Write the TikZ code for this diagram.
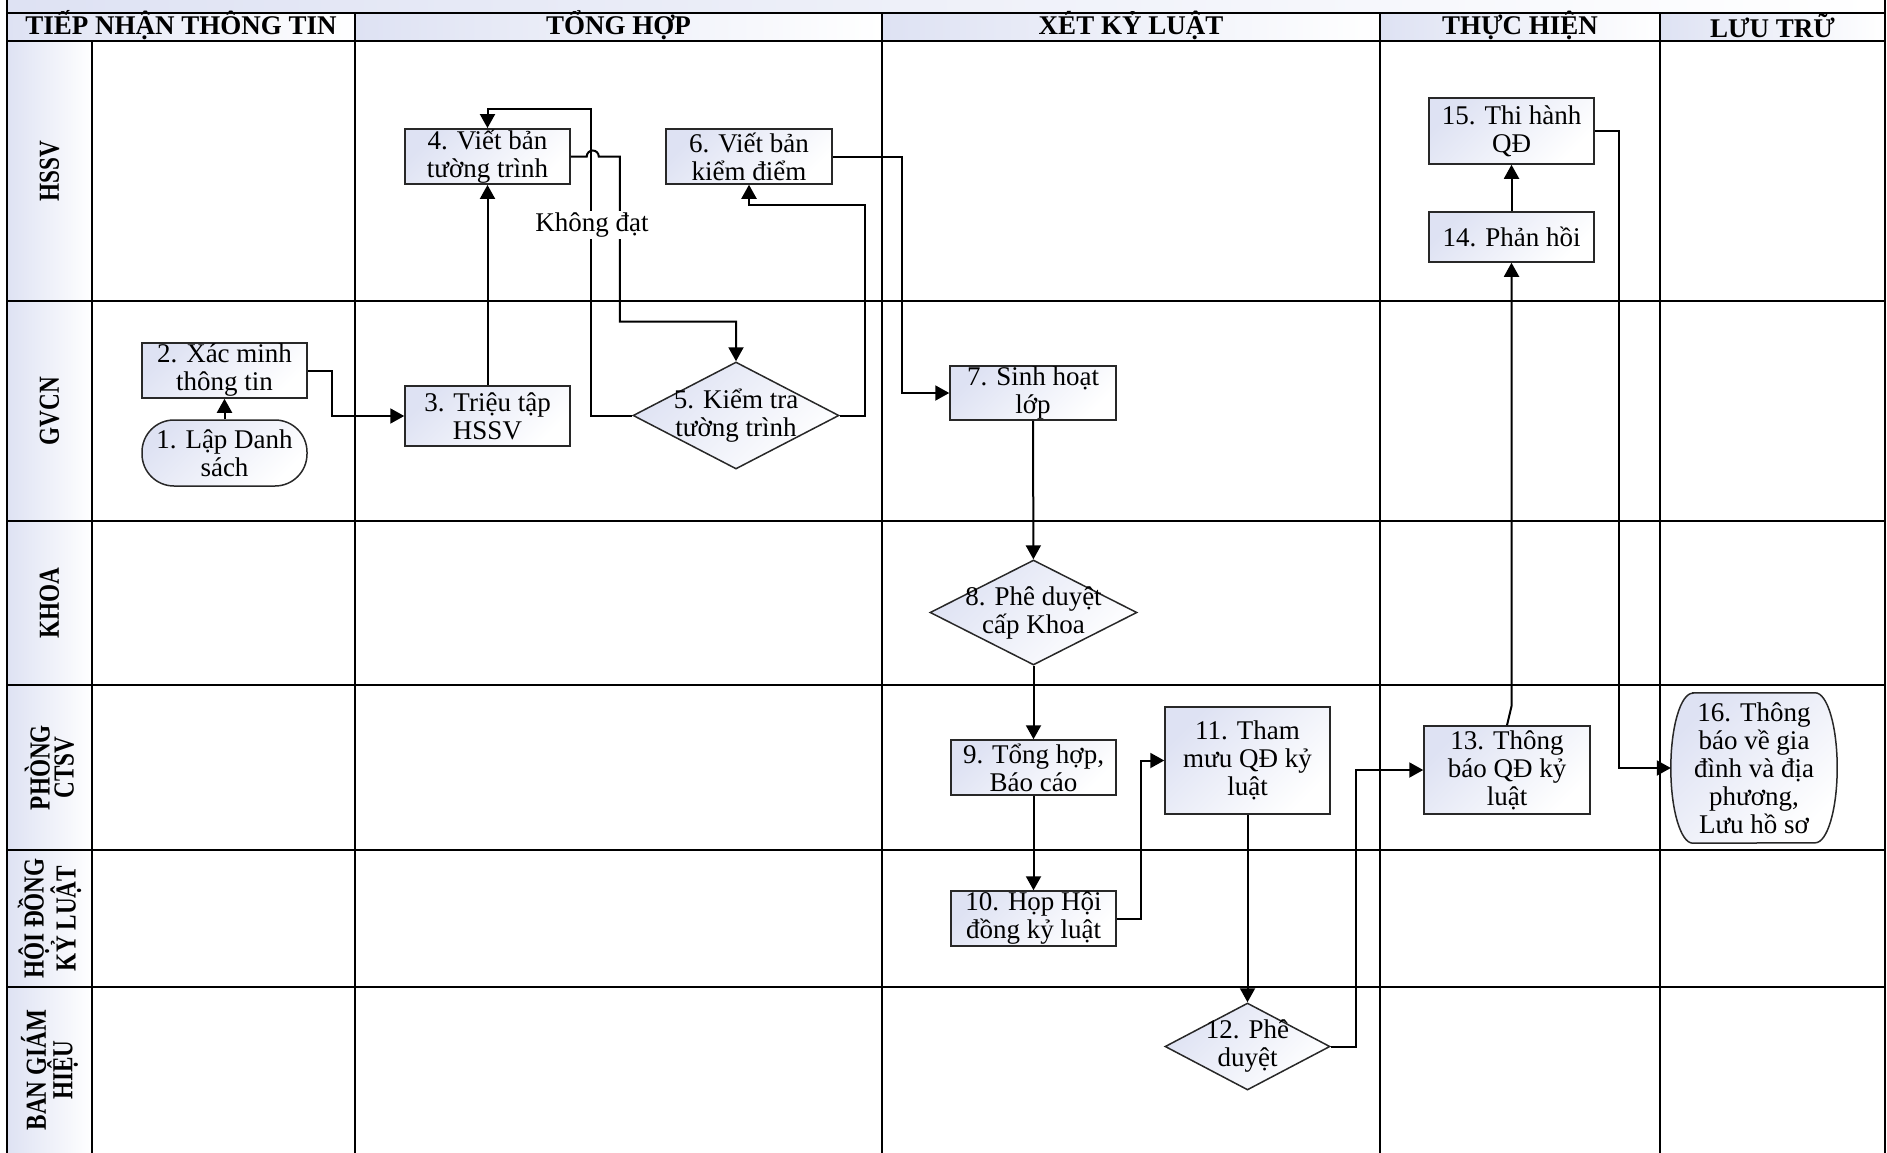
\documentclass[tikz,border=0pt]{standalone}
\usepackage{fontspec}
\setmainfont{Liberation Serif}
\newfontfamily\lanefont{Liberation Serif}[FakeStretch=0.8]
\usetikzlibrary{arrows.meta}
\usetikzlibrary{shapes.geometric}
\definecolor{lanefill}{RGB}{222,226,243}
\definecolor{boxline}{RGB}{40,40,40}

\begin{document}
\begin{tikzpicture}[x=1pt, y=-1pt,
    every node/.style={font=\fontsize{27}{28}\selectfont},
    laneline/.style={line width=1.8pt},
    outerline/.style={line width=2.4pt},
    gradfill/.style={top color=lanefill, bottom color=white, shading angle=45},
    proc/.style={draw=boxline, line width=1.5pt, gradfill,
        minimum width=165pt, minimum height=55pt, inner sep=1pt, align=center},
    term/.style={proc, rounded corners=32pt, minimum height=66pt},
    check/.style={diamond, draw=boxline, line width=1.5pt, gradfill, inner sep=0pt},
    txt/.style={align=center, inner sep=0pt},
    flow/.style={line width=2pt, -{Triangle[length=14pt, width=15pt]}},
    head/.style={font=\bfseries\fontsize{27}{28}\selectfont},
    lane/.style={font=\lanefont\bfseries\fontsize{29}{24}\selectfont, align=center, rotate=90}]
    \useasboundingbox (0,0) rectangle (1887,1153);

    % swimlane frame
    \shade[left color=lanefill, right color=white] (7,0) rectangle (1885,13);
    \foreach \xa/\xb in {7/355, 355/882, 882/1380, 1380/1660, 1660/1885}
        \shade[left color=lanefill, right color=white] (\xa,13) rectangle (\xb,41);
    \foreach \ya/\yb in {41/301, 301/521, 521/685, 685/850, 850/987, 987/1153}
        \shade[left color=lanefill, right color=white] (7,\ya) rectangle (92,\yb);
    \foreach \y in {301,521,685,850,987}
        \draw[laneline] (7,\y) -- (1885,\y);
    \foreach \x in {355,882,1380,1660}
        \draw[laneline] (\x,13) -- (\x,1153);
    \draw[laneline] (92,41) -- (92,1153);
    \draw[outerline] (7,0) -- (7,1153) (1885,0) -- (1885,1153) (7,13) -- (1885,13) (7,41) -- (1885,41);

    \foreach \x/\t [count=\i] in {181/TIẾP NHẬN THÔNG TIN, 618.5/TỔNG HỢP, 1131/XÉT KỶ LUẬT, 1520/THỰC HIỆN, 1772.5/LƯU TRỮ}
        \node[head] (h\i) at (\x,25.5) {\t};
    \foreach \y/\t [count=\i] in {171/HSSV, 411/GVCN, 603/KHOA, 767.5/{PHÒNG\\CTSV}, 918.5/{HỘI ĐỒNG\\KỶ LUẬT}, 1070/{BAN GIÁM\\HIỆU}}
        \node[lane] (l\i) at (49.5,\y) {\t};

    % steps
    \node[term] (s1) at (224.5,453) {1. Lập Danh\\sách};
    \node[proc] (b2) at (224.5,370.5) {2. Xác minh\\thông tin};
    \node[proc, minimum height=60pt] (b3) at (487.5,416) {3. Triệu tập\\HSSV};
    \node[proc] (b4) at (487.5,156.5) {4. Viết bản\\tường trình};
    \node[check, minimum width=206pt, minimum height=107pt] (d5) at (736,415.5) {};
    \node[txt] (t5) at (d5) {5. Kiểm tra\\tường trình};
    \node[proc, minimum width=166pt] (b6) at (749,156.5) {6. Viết bản\\kiểm điểm};
    \node[proc, minimum width=166pt, minimum height=54pt] (b7) at (1033,393) {7. Sinh hoạt\\lớp};
    \node[check, minimum width=207pt, minimum height=105pt] (d8) at (1033.5,612.5) {};
    \node[txt] (t8) at (d8) {8. Phê duyệt\\cấp Khoa};
    \node[proc] (b9) at (1033.5,767.5) {9. Tổng hợp,\\Báo cáo};
    \node[proc] (b10) at (1033.5,918.5) {10. Họp Hội\\đồng kỷ luật};
    \node[proc, minimum height=107pt] (b11) at (1247.5,760.5) {11. Tham\\mưu QĐ kỷ\\luật};
    \node[check, minimum width=165pt, minimum height=87pt] (d12) at (1247.5,1046.5) {};
    \node[txt] (t12) at (d12) {12. Phê\\duyệt};
    \node[proc, minimum width=166pt, minimum height=88pt] (b13) at (1507,770) {13. Thông\\báo QĐ kỷ\\luật};
    \node[proc, minimum height=50pt] (b14) at (1511.5,237) {14. Phản hồi};
    \node[proc, minimum height=66pt] (b15) at (1511.5,131) {15. Thi hành\\QĐ};
    \node[inner sep=0pt, minimum width=166pt, minimum height=150pt] (s16) at (1754,768) {};
    \shadedraw[draw=boxline, line width=1.5pt, gradfill]
        ([xshift=22pt]s16.north west) -- ([xshift=-22pt]s16.north east)
        arc[start angle=90, end angle=-90, x radius=22pt, y radius=75pt]
        -- ([xshift=22pt]s16.south west)
        arc[start angle=270, end angle=90, x radius=22pt, y radius=75pt] -- cycle;
    \node[txt] (t16) at (s16) {16. Thông\\báo về gia\\đình và địa\\phương,\\Lưu hồ sơ};

    % connectors
    \draw[flow] (s1) -- (b2);
    \draw[flow] (b2.east) -- ++(24,0) |- (b3.west);
    \draw[flow] (b3) -- (b4);
    \draw[flow] (b4.east) -- ++(16,0) arc[start angle=180, end angle=0, radius=6pt] -- ++(21,0) -- ++(0,165) -| (d5.north);
    \draw[flow] (d5.west) -- ++(-41,0) -- ++(0,-306) -| (b4.north);
    \draw[flow] (d5.east) -- ++(25,0) -- ++(0,-210.5) -| (b6.south);
    \draw[flow] (b6.east) -- ++(69,0) |- (b7.west);
    \draw[flow] (b7) -- (d8);
    \draw[flow] (d8) -- (b9);
    \draw[flow] (b9) -- (b10);
    \draw[flow] (b10.east) -- ++(24,0) |- (b11.west);
    \draw[flow] (b11) -- (d12);
    \draw[flow] (d12.east) -- ++(25,0) |- (b13.west);
    \draw[flow] (b13.north) -- ++(4.5,-19) -- (b14.south);
    \draw[flow] (b14) -- (b15);
    \draw[flow] (b15.east) -- ++(24,0) |- (s16.west);
    \node[fill=white, inner sep=2pt] (kd) at (592,225) {Không đạt};
\end{tikzpicture}
\end{document}
